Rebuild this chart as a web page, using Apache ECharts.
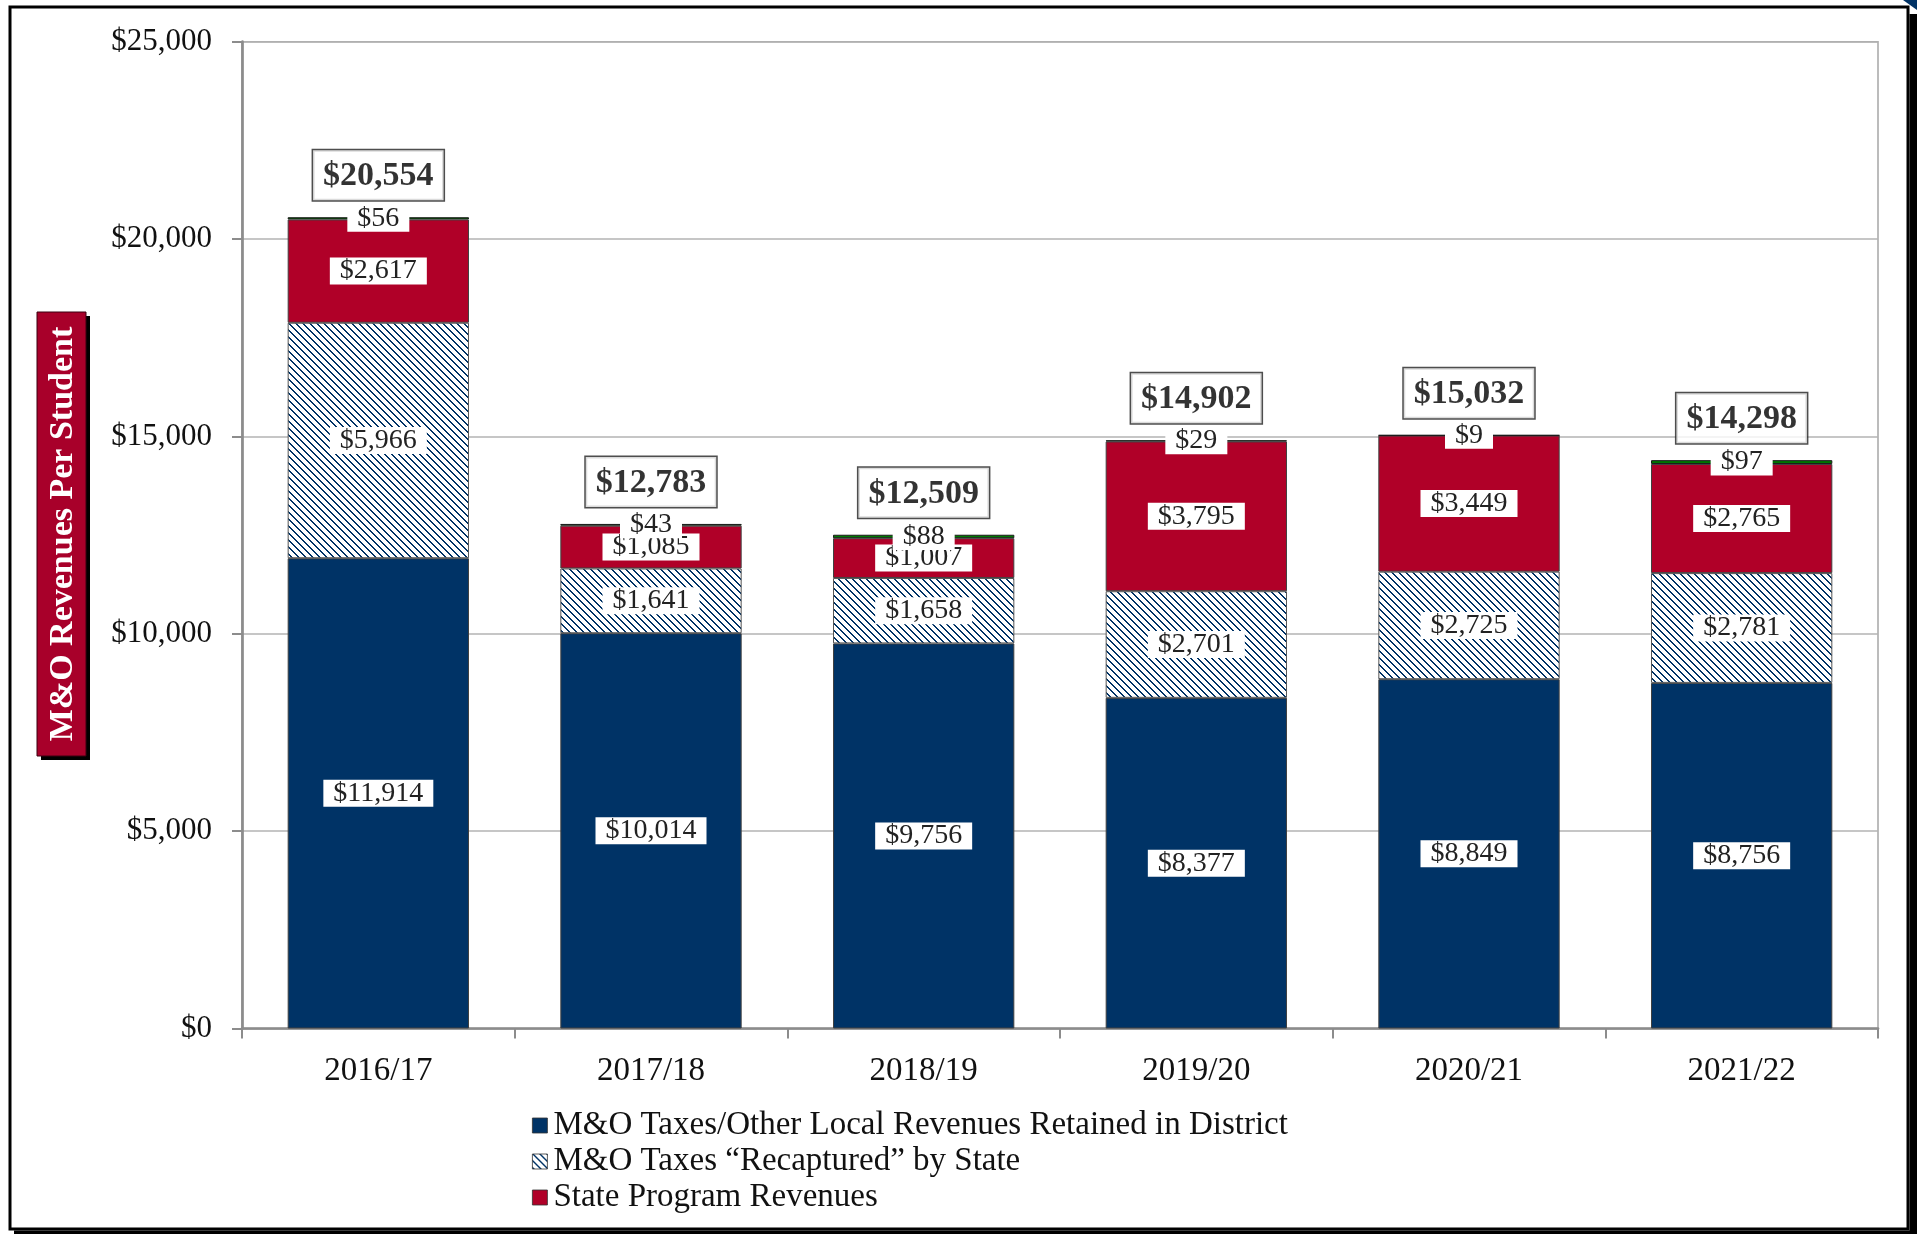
<!DOCTYPE html>
<html>
<head>
<meta charset="utf-8">
<script src="https://cdn.jsdelivr.net/npm/echarts@6/dist/echarts.min.js"></script>
<style>
html,body{margin:0;padding:0;background:#fff;}
#chart{width:1917px;height:1234px;}
</style>
</head>
<body>
<div id="chart"></div>
<script>
const categories = ['2016/17', '2017/18', '2018/19', '2019/20', '2020/21', '2021/22'];
const localRetained = [11914, 10014, 9756, 8377, 8849, 8756];
const recaptured = [5966, 1641, 1658, 2701, 2725, 2781];
const statePrograms = [2617, 1085, 1007, 3795, 3449, 2765];
const otherRevenues = [56, 43, 88, 29, 9, 97];
const totalLabels = [20554, 12783, 12509, 14902, 15032, 14298];
const tickLabels = ['$0', '$5,000', '$10,000', '$15,000', '$20,000', '$25,000'];
const seriesNames = ['M&O Taxes/Other Local Revenues Retained in District', 'M&O Taxes \u201cRecaptured\u201d by State', 'State Program Revenues', 'Other'];

const FONT = 'Liberation Serif';
const NAVY = '#003366';
const RED = '#B00028';
const GREEN = '#007A00';

// hatch pattern (downward diagonal)
const P = 7;
const pc = document.createElement('canvas');
pc.width = P; pc.height = P;
const pctx = pc.getContext('2d');
pctx.fillStyle = '#ffffff';
pctx.fillRect(0, 0, P, P);
pctx.fillStyle = NAVY;
for (let y = 0; y < P; y++) {
  for (let x = 0; x < P; x++) {
    const d = ((x - y) % P + P) % P;
    if (d === 0 || d === 1) pctx.fillRect(x, y, 1, 1);
  }
}
const hatch = { image: pc, repeat: 'repeat' };

const stackTops = categories.map((_, i) => localRetained[i] + recaptured[i] + statePrograms[i] + otherRevenues[i]);
const fmt = v => '$' + Number(v).toLocaleString('en-US');

const valueLabel = {
  show: true,
  position: 'inside',
  formatter: p => fmt(p.value),
  fontFamily: FONT,
  fontSize: 28,
  color: '#222',
  backgroundColor: '#ffffff',
  padding: [1, 10, 0, 10],
  lineHeight: 26
};

const chart = echarts.init(document.getElementById('chart'), null, { renderer: 'canvas' });
chart.setOption({
  animation: false,
  backgroundColor: '#ffffff',
  grid: { left: 242, right: 39, top: 41.7, bottom: 205.5, show: true, borderColor: '#a6a6a6', borderWidth: 1.5, backgroundColor: 'transparent' },
  legend: {
    data: seriesNames.slice(0, 3),
    orient: 'vertical',
    left: 527,
    top: 1104,
    itemWidth: 15,
    itemHeight: 15,
    itemGap: 3,
    icon: 'rect',
    itemStyle: { borderColor: '#333', borderWidth: 0.8 },
    textStyle: { fontFamily: FONT, fontSize: 33, lineHeight: 30, color: '#111', padding: [0, 0, 0, 1] }
  },
  xAxis: {
    type: 'category',
    data: categories,
    axisLine: { lineStyle: { color: '#8c8c8c', width: 2.7 } },
    axisTick: { show: true, length: 10, lineStyle: { color: '#8c8c8c', width: 2 } },
    axisLabel: { fontFamily: FONT, fontSize: 33, color: '#111', margin: 26 }
  },
  yAxis: {
    type: 'value',
    min: 0,
    max: 25000,
    interval: 5000,
    axisLine: { show: true, lineStyle: { color: '#8c8c8c', width: 2.7 } },
    axisTick: { show: true, length: 10, lineStyle: { color: '#8c8c8c', width: 2 } },
    splitLine: { lineStyle: { color: '#b3b3b3', width: 1.5 } },
    axisLabel: {
      fontFamily: FONT, fontSize: 31, color: '#111', margin: 30,
      formatter: (v) => tickLabels[Math.round(v / 5000)]
    }
  },
  series: [
    {
      name: seriesNames[0], type: 'bar', stack: 'total', data: localRetained,
      barCategoryGap: '33.5%',
      itemStyle: { color: NAVY, borderColor: '#404040', borderWidth: 1 },
      label: valueLabel
    },
    {
      name: seriesNames[1], type: 'bar', stack: 'total', data: recaptured,
      itemStyle: { color: hatch, borderColor: '#555', borderWidth: 1 },
      label: valueLabel
    },
    {
      name: seriesNames[2], type: 'bar', stack: 'total', data: statePrograms,
      itemStyle: { color: RED, borderColor: '#404040', borderWidth: 1 },
      label: valueLabel
    },
    {
      name: seriesNames[3], type: 'bar', stack: 'total', data: otherRevenues,
      itemStyle: { color: GREEN, borderColor: '#1a1a1a', borderWidth: 1 },
      label: valueLabel
    },
    {
      name: 'Total', type: 'scatter', data: stackTops,
      symbolSize: 0, silent: true, z: 10,
      label: {
        show: true, position: 'top', distance: 17,
        formatter: p => fmt(totalLabels[p.dataIndex]),
        fontFamily: FONT, fontSize: 34, fontWeight: 'bold', color: '#000',
        backgroundColor: '#ffffff', borderColor: '#222', borderWidth: 1.5,
        padding: [9, 10, 7, 10]
      }
    }
  ],
  graphic: [
    { type: 'rect', shape: { x: 10, y: 7, width: 1898, height: 1222 }, style: { fill: 'none', stroke: '#000', lineWidth: 3 }, z: 100 },
    { type: 'rect', shape: { x: 1909.5, y: 14, width: 8, height: 1220 }, style: { fill: '#000' }, z: 100 },
    { type: 'rect', shape: { x: 14, y: 1230.5, width: 1903, height: 4 }, style: { fill: '#000' }, z: 100 },
    { type: 'polygon', shape: { points: [[1903, 0], [1917, 0], [1917, 10]] }, style: { fill: NAVY }, z: 101 },
    { type: 'rect', shape: { x: 41, y: 316, width: 49, height: 444 }, style: { fill: '#000' }, z: 50 },
    { type: 'rect', shape: { x: 37, y: 312, width: 49, height: 444 }, style: { fill: '#A8002A', stroke: '#3a0010', lineWidth: 1 }, z: 51 },
    {
      type: 'text', x: 63, y: 534, rotation: Math.PI / 2, z: 52,
      style: { text: 'M&O Revenues Per Student', fill: '#ffffff', font: 'bold 34px "Liberation Serif"', textAlign: 'center', textVerticalAlign: 'middle' }
    }
  ]
});
</script>
</body>
</html>
